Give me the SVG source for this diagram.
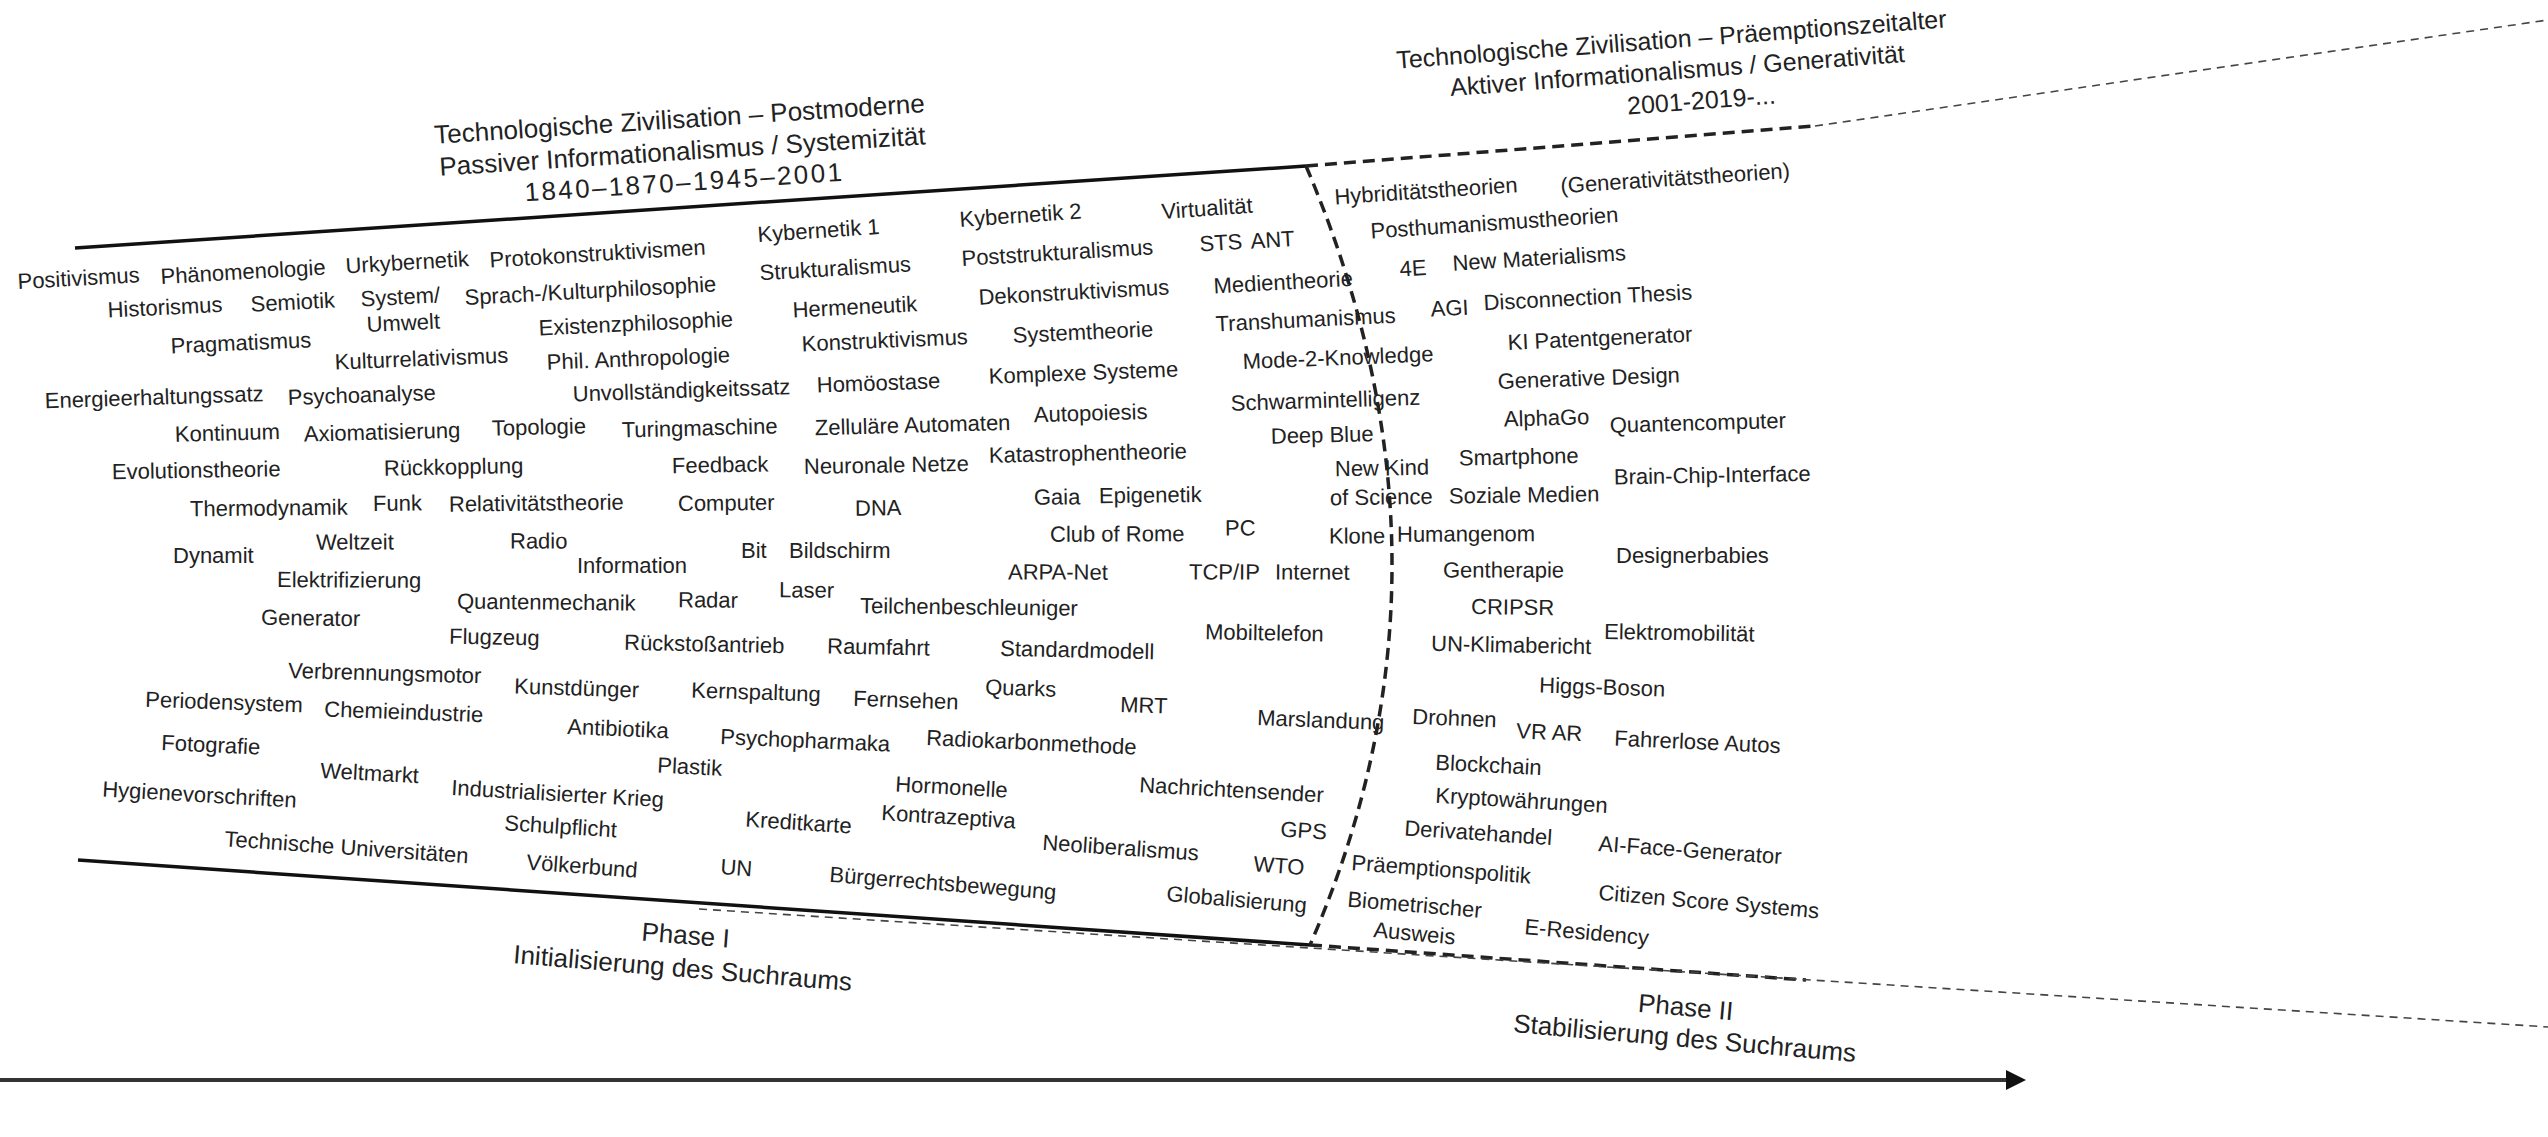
<svg xmlns="http://www.w3.org/2000/svg" width="2548" height="1137" viewBox="0 0 2548 1137">
<style>
text{font-family:"Liberation Sans",Arial,sans-serif;fill:#222}
.t{font-size:22px}
.h{font-size:25px;text-anchor:middle}
.hl{font-size:26px;text-anchor:middle}
.p{font-size:26px;text-anchor:middle}
.solid{stroke:#111;stroke-width:3.5;fill:none}
.bold{stroke:#222;stroke-width:3.5;fill:none;stroke-dasharray:12 7}
.thin{stroke:#444;stroke-width:1.6;fill:none;stroke-dasharray:8 6}
</style>
<defs>
<marker id="ah" viewBox="0 0 10 10" refX="2" refY="5" markerWidth="5" markerHeight="5" orient="auto" markerUnits="strokeWidth"><path d="M0,0 L10,5 L0,10 z" fill="#111"/></marker>
</defs>
<rect width="2548" height="1137" fill="#fff"/>
<g id="connectors">
<line class="solid" x1="75" y1="248" x2="1306" y2="166"/>
<line class="solid" x1="78" y1="860" x2="1310" y2="945"/>
<path class="bold" d="M1306,166 Q1476,565 1310,945"/>
<line class="bold" x1="1306" y1="166" x2="1815" y2="126"/>
<line class="thin" x1="1815" y1="126" x2="2548" y2="20"/>
<line class="bold" x1="1310" y1="945" x2="1806" y2="980"/>
<line class="thin" x1="699" y1="909" x2="2548" y2="1027"/>
<line x1="0" y1="1080" x2="2010" y2="1080" stroke="#333" stroke-width="4" marker-end="url(#ah)"/>
</g>
<g id="titles">
<text class="hl" x="680" y="128" transform="rotate(-3.7 680 128)">Technologische Zivilisation – Postmoderne</text>
<text class="hl" x="683" y="160" transform="rotate(-3.7 683 160)">Passiver Informationalismus / Systemizität</text>
<text class="hl" x="685" y="191" letter-spacing="2.4" transform="rotate(-3.7 685 191)">1840–1870–1945–2001</text>
<text class="h" x="1672" y="48" transform="rotate(-4.3 1672 48)">Technologische Zivilisation – Präemptionszeitalter</text>
<text class="h" x="1678" y="79" transform="rotate(-4.3 1678 79)">Aktiver Informationalismus / Generativität</text>
<text class="h" x="1702" y="109" transform="rotate(-4.3 1702 109)">2001-2019-...</text>
<text class="p" x="685" y="944" transform="rotate(4.5 685 944)">Phase I</text>
<text class="p" x="682" y="977" transform="rotate(4.7 682 977)">Initialisierung des Suchraums</text>
<text class="p" x="1685" y="1016" transform="rotate(5 1685 1016)">Phase II</text>
<text class="p" x="1684" y="1047" transform="rotate(5 1684 1047)">Stabilisierung des Suchraums</text>
</g>
<g id="phase1">
<text class="t" x="18" y="289" transform="rotate(-3.2 18 289)">Positivismus</text>
<text class="t" x="161" y="284" transform="rotate(-3.3 161 284)">Phänomenologie</text>
<text class="t" x="346" y="273.5" transform="rotate(-3.4 346 273.5)">Urkybernetik</text>
<text class="t" x="490" y="267.6" transform="rotate(-3.5 490 267.6)">Protokonstruktivismen</text>
<text class="t" x="758" y="242" transform="rotate(-3.8 758 242)">Kybernetik 1</text>
<text class="t" x="960" y="227" transform="rotate(-4 960 227)">Kybernetik 2</text>
<text class="t" x="1162" y="219" transform="rotate(-4 1162 219)">Virtualität</text>
<text class="t" x="108" y="317.6" transform="rotate(-2.9 108 317.6)">Historismus</text>
<text class="t" x="251" y="311.8" transform="rotate(-3 251 311.8)">Semiotik</text>
<text class="t" x="361" y="306.5" transform="rotate(-3 361 306.5)">System/</text>
<text class="t" x="367" y="332" transform="rotate(-2.7 367 332)">Umwelt</text>
<text class="t" x="465" y="305" transform="rotate(-3.1 465 305)">Sprach-/Kulturphilosophie</text>
<text class="t" x="760" y="280.3" transform="rotate(-3.4 760 280.3)">Strukturalismus</text>
<text class="t" x="962" y="266" transform="rotate(-3.5 962 266)">Poststrukturalismus</text>
<text class="t" x="1200" y="251.5" transform="rotate(-3.6 1200 251.5)">STS</text>
<text class="t" x="1251" y="248.7" transform="rotate(-3.7 1251 248.7)">ANT</text>
<text class="t" x="539" y="335.5" transform="rotate(-2.7 539 335.5)">Existenzphilosophie</text>
<text class="t" x="793" y="317.6" transform="rotate(-2.9 793 317.6)">Hermeneutik</text>
<text class="t" x="979" y="304.8" transform="rotate(-3.1 979 304.8)">Dekonstruktivismus</text>
<text class="t" x="1214" y="293.5" transform="rotate(-3.2 1214 293.5)">Medientheorie</text>
<text class="t" x="171" y="353.4" transform="rotate(-2.5 171 353.4)">Pragmatismus</text>
<text class="t" x="335" y="369.5" transform="rotate(-2.3 335 369.5)">Kulturrelativismus</text>
<text class="t" x="547" y="369.7" transform="rotate(-2.3 547 369.7)">Phil. Anthropologie</text>
<text class="t" x="802" y="351.4" transform="rotate(-2.5 802 351.4)">Konstruktivismus</text>
<text class="t" x="1013" y="342.8" transform="rotate(-2.6 1013 342.8)">Systemtheorie</text>
<text class="t" x="1216" y="331.5" transform="rotate(-2.8 1216 331.5)">Transhumanismus</text>
<text class="t" x="45" y="408.3" transform="rotate(-1.9 45 408.3)">Energieerhaltungssatz</text>
<text class="t" x="288" y="404.9" transform="rotate(-1.9 288 404.9)">Psychoanalyse</text>
<text class="t" x="573" y="401.6" transform="rotate(-2 573 401.6)">Unvollständigkeitssatz</text>
<text class="t" x="817" y="392.5" transform="rotate(-2 817 392.5)">Homöostase</text>
<text class="t" x="989" y="383.8" transform="rotate(-2.2 989 383.8)">Komplexe Systeme</text>
<text class="t" x="1243" y="369" transform="rotate(-2.3 1243 369)">Mode-2-Knowledge</text>
<text class="t" x="175" y="441.8" transform="rotate(-1.5 175 441.8)">Kontinuum</text>
<text class="t" x="304" y="441.6" transform="rotate(-1.5 304 441.6)">Axiomatisierung</text>
<text class="t" x="492" y="435.8" transform="rotate(-1.5 492 435.8)">Topologie</text>
<text class="t" x="622" y="437.5" transform="rotate(-1.5 622 437.5)">Turingmaschine</text>
<text class="t" x="815" y="435.3" transform="rotate(-1.6 815 435.3)">Zelluläre Automaten</text>
<text class="t" x="1034" y="422.3" transform="rotate(-1.7 1034 422.3)">Autopoiesis</text>
<text class="t" x="1231" y="410.7" transform="rotate(-1.8 1231 410.7)">Schwarmintelligenz</text>
<text class="t" x="112" y="479.2" transform="rotate(-1 112 479.2)">Evolutionstheorie</text>
<text class="t" x="384" y="475.7" transform="rotate(-1.1 384 475.7)">Rückkopplung</text>
<text class="t" x="672" y="473.3" transform="rotate(-1.1 672 473.3)">Feedback</text>
<text class="t" x="804" y="474.1" transform="rotate(-1.1 804 474.1)">Neuronale Netze</text>
<text class="t" x="989" y="462.7" transform="rotate(-1.2 989 462.7)">Katastrophentheorie</text>
<text class="t" x="1271" y="443.7" transform="rotate(-1.4 1271 443.7)">Deep Blue</text>
<text class="t" x="190" y="516.3" transform="rotate(-0.6 190 516.3)">Thermodynamik</text>
<text class="t" x="373" y="511" transform="rotate(-0.7 373 511)">Funk</text>
<text class="t" x="449" y="511.7" transform="rotate(-0.7 449 511.7)">Relativitätstheorie</text>
<text class="t" x="678" y="511" transform="rotate(-0.7 678 511)">Computer</text>
<text class="t" x="855" y="515.7" transform="rotate(-0.6 855 515.7)">DNA</text>
<text class="t" x="1034" y="504.8" transform="rotate(-0.7 1034 504.8)">Gaia</text>
<text class="t" x="1099" y="503.2" transform="rotate(-0.7 1099 503.2)">Epigenetik</text>
<text class="t" x="1335" y="476.3" transform="rotate(-1 1335 476.3)">New Kind</text>
<text class="t" x="1330" y="505.2" transform="rotate(-0.7 1330 505.2)">of Science</text>
<text class="t" x="1050" y="541.8" transform="rotate(-0.3 1050 541.8)">Club of Rome</text>
<text class="t" x="1225" y="535.5" transform="rotate(-0.4 1225 535.5)">PC</text>
<text class="t" x="1329" y="543.6" transform="rotate(-0.3 1329 543.6)">Klone</text>
<text class="t" x="173" y="562.5">Dynamit</text>
<text class="t" x="316" y="549.7" transform="rotate(-0.2 316 549.7)">Weltzeit</text>
<text class="t" x="510" y="548.6" transform="rotate(-0.2 510 548.6)">Radio</text>
<text class="t" x="577" y="572.5">Information</text>
<text class="t" x="741" y="557.5">Bit</text>
<text class="t" x="789" y="557.8">Bildschirm</text>
<text class="t" x="1008" y="579.4" transform="rotate(0.2 1008 579.4)">ARPA-Net</text>
<text class="t" x="1189" y="579.4" transform="rotate(0.2 1189 579.4)">TCP/IP</text>
<text class="t" x="1275" y="579.4" transform="rotate(0.2 1275 579.4)">Internet</text>
<text class="t" x="277" y="587.1" transform="rotate(0.3 277 587.1)">Elektrifizierung</text>
<text class="t" x="457" y="608.7" transform="rotate(0.6 457 608.7)">Quantenmechanik</text>
<text class="t" x="678" y="607.2" transform="rotate(0.6 678 607.2)">Radar</text>
<text class="t" x="779" y="597.3" transform="rotate(0.4 779 597.3)">Laser</text>
<text class="t" x="860" y="613.2" transform="rotate(0.7 860 613.2)">Teilchenbeschleuniger</text>
<text class="t" x="261" y="624.8" transform="rotate(0.8 261 624.8)">Generator</text>
<text class="t" x="449" y="643.7" transform="rotate(1.1 449 643.7)">Flugzeug</text>
<text class="t" x="624" y="649.8" transform="rotate(1.2 624 649.8)">Rückstoßantrieb</text>
<text class="t" x="827" y="653.5" transform="rotate(1.2 827 653.5)">Raumfahrt</text>
<text class="t" x="1000" y="655.8" transform="rotate(1.3 1000 655.8)">Standardmodell</text>
<text class="t" x="1205" y="639.3" transform="rotate(1 1205 639.3)">Mobiltelefon</text>
<text class="t" x="288" y="677.9" transform="rotate(1.6 288 677.9)">Verbrennungsmotor</text>
<text class="t" x="514" y="693.6" transform="rotate(1.8 514 693.6)">Kunstdünger</text>
<text class="t" x="691" y="697.4" transform="rotate(1.9 691 697.4)">Kernspaltung</text>
<text class="t" x="853" y="705.8" transform="rotate(2 853 705.8)">Fernsehen</text>
<text class="t" x="985" y="694.5" transform="rotate(1.8 985 694.5)">Quarks</text>
<text class="t" x="1120" y="711.9" transform="rotate(2 1120 711.9)">MRT</text>
<text class="t" x="1257" y="725.1" transform="rotate(2.2 1257 725.1)">Marslandung</text>
<text class="t" x="145" y="706.8" transform="rotate(2 145 706.8)">Periodensystem</text>
<text class="t" x="324" y="716.4" transform="rotate(2.1 324 716.4)">Chemieindustrie</text>
<text class="t" x="567" y="734" transform="rotate(2.4 567 734)">Antibiotika</text>
<text class="t" x="720" y="744.1" transform="rotate(2.5 720 744.1)">Psychopharmaka</text>
<text class="t" x="926" y="745.1" transform="rotate(2.6 926 745.1)">Radiokarbonmethode</text>
<text class="t" x="161" y="750" transform="rotate(2.6 161 750)">Fotografie</text>
<text class="t" x="657" y="772.5" transform="rotate(2.9 657 772.5)">Plastik</text>
<text class="t" x="320" y="777.9" transform="rotate(3 320 777.9)">Weltmarkt</text>
<text class="t" x="451" y="795" transform="rotate(3.3 451 795)">Industrialisierter Krieg</text>
<text class="t" x="895" y="791.4" transform="rotate(3.2 895 791.4)">Hormonelle</text>
<text class="t" x="881" y="820" transform="rotate(3.6 881 820)">Kontrazeptiva</text>
<text class="t" x="1139" y="792.2" transform="rotate(3.2 1139 792.2)">Nachrichtensender</text>
<text class="t" x="102" y="796.5" transform="rotate(3.3 102 796.5)">Hygienevorschriften</text>
<text class="t" x="504" y="830.2" transform="rotate(3.7 504 830.2)">Schulpflicht</text>
<text class="t" x="745" y="826.6" transform="rotate(3.7 745 826.6)">Kreditkarte</text>
<text class="t" x="1280" y="836.4" transform="rotate(3.8 1280 836.4)">GPS</text>
<text class="t" x="1042" y="849.7" transform="rotate(4 1042 849.7)">Neoliberalismus</text>
<text class="t" x="1253" y="871.3" transform="rotate(4.3 1253 871.3)">WTO</text>
<text class="t" x="224" y="846.2" transform="rotate(4 224 846.2)">Technische Universitäten</text>
<text class="t" x="526" y="869.4" transform="rotate(4.3 526 869.4)">Völkerbund</text>
<text class="t" x="720" y="874" transform="rotate(4.3 720 874)">UN</text>
<text class="t" x="829" y="881.8" transform="rotate(4.5 829 881.8)">Bürgerrechtsbewegung</text>
<text class="t" x="1166" y="901.1" transform="rotate(4.8 1166 901.1)">Globalisierung</text>
</g>
<g id="phase2">
<text class="t" x="1335" y="204.4" transform="rotate(-3.8 1335 204.4)">Hybriditätstheorien</text>
<text class="t" x="1561" y="193.3" transform="rotate(-3.8 1561 193.3)">(Generativitätstheorien)</text>
<text class="t" x="1371" y="238.5" transform="rotate(-3.8 1371 238.5)">Posthumanismustheorien</text>
<text class="t" x="1400" y="276.5" transform="rotate(-3.4 1400 276.5)">4E</text>
<text class="t" x="1453" y="270.8" transform="rotate(-3.5 1453 270.8)">New Materialisms</text>
<text class="t" x="1431" y="316.5" transform="rotate(-2.9 1431 316.5)">AGI</text>
<text class="t" x="1484" y="310.3" transform="rotate(-3 1484 310.3)">Disconnection Thesis</text>
<text class="t" x="1508" y="349.9" transform="rotate(-2.6 1508 349.9)">KI Patentgenerator</text>
<text class="t" x="1498" y="388.9" transform="rotate(-2.1 1498 388.9)">Generative Design</text>
<text class="t" x="1504" y="426.6" transform="rotate(-1.6 1504 426.6)">AlphaGo</text>
<text class="t" x="1610" y="432.8" transform="rotate(-1.6 1610 432.8)">Quantencomputer</text>
<text class="t" x="1459" y="465.6" transform="rotate(-1.2 1459 465.6)">Smartphone</text>
<text class="t" x="1614" y="484.4" transform="rotate(-1 1614 484.4)">Brain-Chip-Interface</text>
<text class="t" x="1449" y="503.5" transform="rotate(-0.8 1449 503.5)">Soziale Medien</text>
<text class="t" x="1397" y="541.8" transform="rotate(-0.3 1397 541.8)">Humangenom</text>
<text class="t" x="1616" y="562.6">Designerbabies</text>
<text class="t" x="1443" y="577.4" transform="rotate(0.1 1443 577.4)">Gentherapie</text>
<text class="t" x="1471" y="614.1" transform="rotate(0.7 1471 614.1)">CRIPSR</text>
<text class="t" x="1604" y="638.9" transform="rotate(1 1604 638.9)">Elektromobilität</text>
<text class="t" x="1431" y="650.8" transform="rotate(1.2 1431 650.8)">UN-Klimabericht</text>
<text class="t" x="1539" y="692.6" transform="rotate(1.8 1539 692.6)">Higgs-Boson</text>
<text class="t" x="1412" y="724" transform="rotate(2.2 1412 724)">Drohnen</text>
<text class="t" x="1516" y="738.3" transform="rotate(2.4 1516 738.3)">VR AR</text>
<text class="t" x="1614" y="745.6" transform="rotate(2.6 1614 745.6)">Fahrerlose Autos</text>
<text class="t" x="1435" y="769.7" transform="rotate(2.9 1435 769.7)">Blockchain</text>
<text class="t" x="1435" y="802.7" transform="rotate(3.4 1435 802.7)">Kryptowährungen</text>
<text class="t" x="1404" y="835.4" transform="rotate(3.8 1404 835.4)">Derivatehandel</text>
<text class="t" x="1598" y="850.9" transform="rotate(4.1 1598 850.9)">AI-Face-Generator</text>
<text class="t" x="1351" y="870" transform="rotate(4.3 1351 870)">Präemptionspolitik</text>
<text class="t" x="1347" y="906.5" transform="rotate(4.8 1347 906.5)">Biometrischer</text>
<text class="t" x="1373" y="937" transform="rotate(5.2 1373 937)">Ausweis</text>
<text class="t" x="1598" y="899.8" transform="rotate(4.8 1598 899.8)">Citizen Score Systems</text>
<text class="t" x="1524" y="934" transform="rotate(5.2 1524 934)">E-Residency</text>
</g>
</svg>
